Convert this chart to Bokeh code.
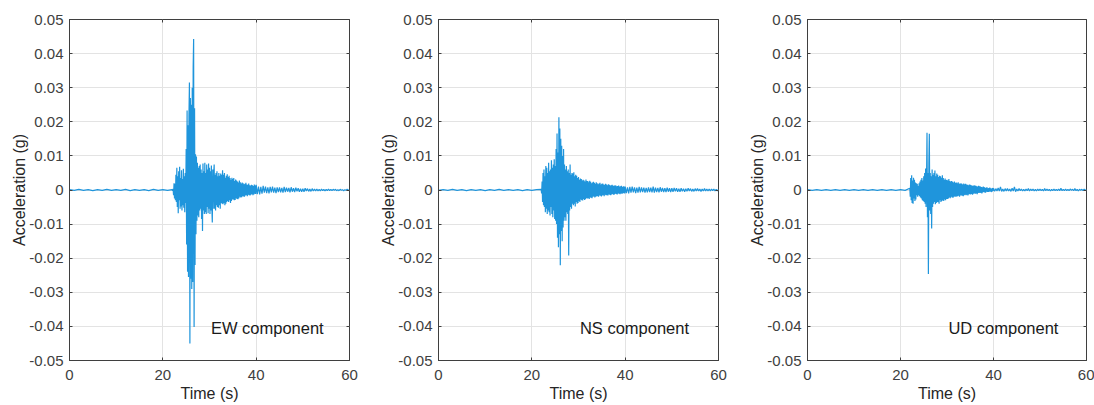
import numpy as np
from bokeh.plotting import figure
from bokeh.layouts import row
from bokeh.models import FixedTicker, LinearAxis, Range1d, Label
from bokeh.embed import file_html
from bokeh.resources import INLINE

# ---------------- data (accelerations in milli-g) ----------------
# pre-event samples: t = 0 .. 21 s, dt = 1 s
EW_PRE = [0.1, -0.1, 0.2, -0.1, 0.1, -0.2, 0.1, -0.1, 0.2, -0.1, 0.1,
          -0.1, 0.2, -0.2, 0.1, -0.1, 0.1, -0.2, 0.2, -0.1, 0.1, -0.1]
NS_PRE = [-0.1, 0.1, -0.1, 0.2, -0.1, 0.1, -0.2, 0.1, -0.1, 0.1, -0.2,
          0.1, -0.1, 0.2, -0.1, 0.1, -0.1, 0.1, -0.2, 0.1, -0.1, 0.1]
UD_PRE = [0.1, -0.1, 0.1, -0.1, 0.1, -0.1, 0.1, -0.1, 0.1, -0.1, 0.1,
          -0.1, 0.1, -0.1, 0.1, -0.1, 0.1, -0.1, 0.1, -0.1, 0.1, -0.1]

# strong motion: t = 22.0 .. 39.9 s, dt = 0.1 s
EW_MAIN = [
    0.1, -0.2, 0.3, -1.5, 2.0, -2.5, 1.8, -3.0, 4.5, -3.5,
    6.5, -5.0, 4.0, -6.8, 5.5, -3.0, 6.8, -5.5, 3.5, -4.8,
    5.8, -6.0, 3.2, -4.5, 6.2, -5.2, 4.0, -6.5, 5.0, -3.8,
    12.0, -16.0, 23.3, -24.0, 19.0, -25.5, 22.0, 31.5, -45.0, 27.0,
    -26.0, 25.0, -29.0, 30.0, -27.0, 36.0, 44.3, -40.2, 24.0, -22.0,
    10.5, -13.0, 9.8, -9.0, 8.0, -7.5, 6.5, -8.0, 7.0, -6.0,
    7.5, -5.5, 6.0, -8.5, 5.0, -12.0, 7.8, -6.0, 5.5, -7.0,
    8.0, -6.5, 5.0, -7.0, 7.5, -5.0, 6.0, -6.8, 7.8, -5.5,
    6.5, -7.0, 5.5, -6.0, 7.2, -5.0, -9.5, 6.0, -5.5, 4.8,
    7.5, -5.5, 4.5, -6.0, 5.0, -4.5, 5.5, -5.0, 4.0, -5.2,
    5.0, -4.5, 4.2, -5.5, 4.8, -3.8, 4.5, -4.0, 5.8, -4.2,
    4.5, -3.8, 5.0, -4.5, 3.6, -4.0, 4.2, -3.5, 4.6, -3.2,
    3.8, -3.5, 4.2, -3.0, 3.5, -3.8, 3.0, -3.2, 3.6, -2.8,
    3.2, -2.8, 3.5, -3.0, 2.6, -2.9, 3.1, -2.4, 2.8, -2.6,
    2.5, -2.7, 2.2, -2.4, 2.8, -2.0, 2.3, -2.2, 1.9, -2.1,
    2.2, -1.8, 2.0, -1.9, 1.7, -2.0, 1.8, -1.6, 2.1, -1.5,
    1.6, -1.8, 1.5, -1.4, 1.9, -1.5, 1.4, -1.6, 1.3, -1.4,
    1.5, -1.2, 1.4, -1.5, 1.2, -1.3, 1.6, -1.1, 1.3, -1.2,
]
NS_MAIN = [
    0.2, -1.0, 2.5, -3.5, 5.0, -4.5, 6.0, -5.0, 4.0, -6.5,
    7.0, -5.5, 6.5, -7.0, 5.0, -6.0, 8.0, -6.5, 5.5, -7.5,
    6.0, -5.0, 8.7, -7.0, 6.5, -8.0, 7.5, -6.0, 9.0, -8.5,
    7.0, -9.0, 12.0, -10.0, 16.6, -14.0, 11.0, -16.8, 21.3, -13.0,
    18.0, -22.1, 15.0, -12.0, 13.0, -15.0, 10.0, -11.0, 12.0, -9.0,
    7.5, -8.0, 6.0, -9.0, 7.0, -6.5, 5.5, -7.0, 6.0, -19.2,
    5.0, -6.0, 7.5, -5.0, 4.5, -5.5, 5.0, -4.0, 4.8, -4.5,
    5.2, -4.0, 4.0, -4.8, 4.5, -3.5, 4.2, -4.0, 3.5, -3.8,
    3.8, -3.2, 3.0, -3.5, 3.4, -2.8, 3.2, -3.0, 2.8, -3.1,
    3.0, -2.6, 2.8, -2.9, 2.5, -2.7, 3.1, -2.4, 2.6, -2.5,
    2.6, -2.4, 2.3, -2.6, 2.7, -2.2, 2.4, -2.3, 2.0, -2.4,
    2.2, -2.0, 2.4, -1.9, 2.1, -2.2, 1.8, -2.0, 2.3, -1.8,
    2.0, -1.8, 1.7, -2.0, 1.9, -1.6, 2.1, -1.7, 1.6, -1.9,
    1.8, -1.6, 1.9, -1.5, 1.6, -1.8, 1.5, -1.4, 1.8, -1.5,
    1.6, -1.5, 1.4, -1.6, 1.7, -1.3, 1.5, -1.4, 1.3, -1.5,
    1.4, -1.3, 1.5, -1.2, 1.3, -1.4, 1.2, -1.3, 1.4, -1.1,
    1.3, -1.2, 1.1, -1.3, 1.2, -1.0, 1.3, -1.1, 1.0, -1.2,
    1.1, -1.0, 1.2, -1.1, 0.9, -1.0, 1.1, -0.9, 1.0, -1.0,
]
UD_MAIN = [
    0.5, -2.0, 3.5, -3.0, 4.3, -3.8, 2.8, -4.0, 3.6, -2.5,
    3.0, -3.2, 2.2, -2.8, 2.0, -1.5, 1.8, -2.0, 1.2, -1.5,
    2.0, -1.8, 2.5, -2.2, 3.0, -2.5, 3.5, -3.0, 2.8, -3.2,
    4.0, -3.5, 5.0, -4.0, 6.3, -5.0, 3.0, 16.8, -8.0, 5.0,
    -24.6, 8.0, 16.5, -6.0, 5.0, -7.0, 4.0, -11.3, 6.0, -5.0,
    4.5, -4.0, 5.0, -3.5, 5.7, -4.2, 4.0, -3.8, 4.8, -3.5,
    4.5, -3.6, 3.8, -4.0, 4.2, -3.0, 4.0, -3.5, 3.6, -3.2,
    4.3, -3.0, 3.5, -3.2, 3.0, -2.8, 3.4, -3.0, 2.9, -2.6,
    3.0, -2.6, 2.8, -2.5, 3.2, -2.2, 2.6, -2.4, 2.5, -2.0,
    2.6, -2.2, 2.4, -2.3, 2.2, -2.0, 2.5, -1.9, 2.1, -2.0,
    2.2, -1.9, 2.0, -1.8, 2.3, -1.7, 1.9, -2.0, 1.8, -1.6,
    2.0, -1.6, 1.8, -1.7, 1.6, -1.8, 1.9, -1.5, 1.7, -1.4,
    1.8, -1.5, 1.6, -1.4, 1.5, -1.6, 1.4, -1.3, 1.6, -1.2,
    1.5, -1.3, 1.4, -1.2, 1.3, -1.4, 1.2, -1.1, 1.4, -1.0,
    1.3, -1.1, 1.2, -1.0, 1.1, -1.2, 1.0, -0.9, 1.2, -0.8,
    1.1, -0.9, 1.0, -0.8, 0.9, -1.0, 0.8, -0.7, 1.0, -0.6,
    0.9, -0.7, 0.6, -0.8, 0.7, -0.5, 0.8, -0.6, 0.5, -0.6,
    0.6, -0.5, 0.7, -0.4, 0.5, -0.6, 0.4, -0.5, 0.6, -0.3,
]

# coda: t = 40.0 .. 60.0 s, dt = 0.25 s
EW_CODA = [
    1.5, -1.2, 1.0, -1.3, 0.9, -1.1, 1.2, -0.8, 1.0, -0.9, 0.8, -1.0, 0.9, -0.7, 1.0, -0.8, 0.7, -0.9, 0.8, -0.6,
    0.8, -0.7, 0.6, -0.8, 0.9, -0.6, 0.7, -0.5, 0.6, -0.7, 0.8, -0.5, 0.5, -0.6, 0.7, -0.4, 0.5, -0.5, 0.4, -0.5,
    0.4, -0.5, 0.5, -0.3, 0.4, -0.4, 0.3, -0.4, 0.4, -0.3, 0.3, -0.3, 0.3, -0.3, 0.2, -0.3, 0.3, -0.2, 0.2, -0.3,
    0.2, -0.2, 0.3, -0.2, 0.2, -0.2, 0.2, -0.1, 0.2, -0.2, 0.1, -0.2, 0.2, -0.1, 0.1, -0.2, 0.1, -0.1, 0.2, -0.1, 0.1,
]
NS_CODA = [
    1.0, -0.9, 0.8, -1.0, 0.9, -0.8, 1.0, -0.7, 0.8, -0.9, 0.7, -0.8, 0.9, -0.7, 0.8, -0.6, 0.7, -0.8, 0.6, -0.7,
    0.8, -0.6, 0.7, -0.7, 1.0, -0.8, 0.7, -0.6, 0.6, -0.7, 0.8, -0.5, 0.6, -0.6, 0.5, -0.6, 0.7, -0.5, 0.5, -0.6,
    0.5, -0.5, 0.6, -0.4, 0.5, -0.5, 0.4, -0.5, 0.5, -0.4, 0.4, -0.5, 0.4, -0.4, 0.5, -0.3, 0.4, -0.4, 0.3, -0.4,
    0.4, -0.3, 0.4, -0.3, 0.3, -0.4, 0.3, -0.3, 0.4, -0.3, 0.3, -0.3, 0.3, -0.3, 0.3, -0.2, 0.3, -0.3, 0.2, -0.3, 0.2,
]
UD_CODA = [
    0.5, -0.4, 0.4, -0.3, 0.6, -0.3, 0.9, -0.4, 0.3, -0.4, 0.4, -0.3, 0.4, -0.3, 0.3, -0.4, 0.5, -0.3, 0.9, -0.5,
    0.3, -0.3, 0.4, -0.2, 0.3, -0.3, 0.2, -0.3, 0.3, -0.2, 0.4, -0.3, 0.3, -0.2, 0.3, -0.3, 0.2, -0.3, 0.3, -0.2,
    0.3, -0.2, 0.2, -0.3, 0.4, -0.2, 0.3, -0.2, 0.2, -0.3, 0.2, -0.2, 0.3, -0.2, 0.2, -0.2, 0.3, -0.2, 0.5, -0.2,
    0.2, -0.2, 0.3, -0.2, 0.2, -0.2, 0.3, -0.1, 0.2, -0.2, 0.4, -0.2, 0.2, -0.3, 0.2, -0.1, 0.2, -0.2, 0.3, -0.2, 0.2,
]

COMPONENTS = ["EW component", "NS component", "UD component"]
X_TICKS = [0, 20, 40, 60]
Y_TICKS = [-0.05, -0.04, -0.03, -0.02, -0.01, 0, 0.01, 0.02, 0.03, 0.04, 0.05]
Y_TICK_LABELS = ["-0.05", "-0.04", "-0.03", "-0.02", "-0.01", "0",
                 "0.01", "0.02", "0.03", "0.04", "0.05"]

# segment sampling (start time, step)
PRE_T0, PRE_DT = 0.0, 1.0
MAIN_T0, MAIN_DT = 22.0, 0.1
CODA_T0, CODA_DT = 40.0, 0.25
MILLI_G = 1e-3


def trace(pre, main, coda):
    t = np.concatenate([
        PRE_T0 + PRE_DT * np.arange(len(pre)),
        MAIN_T0 + MAIN_DT * np.arange(len(main)),
        CODA_T0 + CODA_DT * np.arange(len(coda)),
    ])
    a = np.concatenate([pre, main, coda]) * MILLI_G
    return t, a


SERIES = [trace(EW_PRE, EW_MAIN, EW_CODA),
          trace(NS_PRE, NS_MAIN, NS_CODA),
          trace(UD_PRE, UD_MAIN, UD_CODA)]

# ---------------- styling ----------------
FONT = "Liberation Sans"
LINE_COLOR = "#1f95dc"
FRAME = "#3f3f3f"
TICK_TEXT = "#404040"
LABEL_TEXT = "#262626"
GRID = "#e3e3e3"

FRAME_W = [280, 280, 279]
FRAME_H = 341
BORDER_L = 69
BORDER_R = [20, 20, 8]
BORDER_T = 19
BORDER_B = 45

overrides = {t: l for t, l in zip(Y_TICKS, Y_TICK_LABELS)}

figs = []
for i, ((t, a), comp) in enumerate(zip(SERIES, COMPONENTS)):
    p = figure(width=BORDER_L + FRAME_W[i] + BORDER_R[i], height=BORDER_T + FRAME_H + BORDER_B,
               output_backend="svg", toolbar_location=None,
               x_range=Range1d(0, 60), y_range=Range1d(-0.05, 0.05),
               min_border_left=BORDER_L, min_border_right=BORDER_R[i],
               min_border_top=BORDER_T, min_border_bottom=BORDER_B)
    p.background_fill_color = "white"
    p.border_fill_color = "white"
    p.outline_line_color = FRAME
    p.outline_line_width = 1
    p.outline_line_alpha = 1

    p.line(t, a, line_color=LINE_COLOR, line_width=1.2)

    p.xaxis.ticker = FixedTicker(ticks=X_TICKS)
    p.yaxis.ticker = FixedTicker(ticks=Y_TICKS)
    p.yaxis.major_label_overrides = overrides
    for ax in (p.xaxis[0], p.yaxis[0]):
        ax.axis_line_color = FRAME
        ax.major_tick_in = 3
        ax.major_tick_out = 0
        ax.major_tick_line_color = FRAME
        ax.minor_tick_line_color = None
        ax.major_label_text_font = FONT
        ax.major_label_text_font_size = "15px"
        ax.major_label_text_color = TICK_TEXT
        ax.axis_label_text_font = FONT
        ax.axis_label_text_font_size = "16px"
        ax.axis_label_text_font_style = "normal"
        ax.axis_label_text_color = LABEL_TEXT
    p.xaxis.axis_label = "Time (s)"
    p.yaxis.axis_label = "Acceleration (g)"
    p.xaxis.major_label_standoff = 9
    p.xaxis.axis_label_standoff = 2
    p.yaxis.major_label_standoff = 6
    p.yaxis.axis_label_standoff = -2

    # box ticks on right and top (MATLAB style); their labels are not drawn
    for ticks, side in ((Y_TICKS, "right"), (X_TICKS, "above")):
        p.add_layout(LinearAxis(ticker=FixedTicker(ticks=ticks),
                                major_label_text_font_size="1px",
                                major_label_text_color=None,
                                axis_line_color=None, major_tick_in=3, major_tick_out=0,
                                major_tick_line_color=FRAME, minor_tick_line_color=None,
                                major_label_standoff=0), side)

    p.xgrid.grid_line_color = GRID
    p.ygrid.grid_line_color = GRID
    p.xgrid.grid_line_width = 1
    p.ygrid.grid_line_width = 1

    p.add_layout(Label(x=30.3, y=-0.0406, text=comp, text_baseline="middle",
                       text_font=FONT, text_font_size="16.5px", text_color="#1a1a1a"))
    figs.append(p)

layout = row(*figs, spacing=0)
open("out.html", "w").write(file_html(layout, INLINE))
